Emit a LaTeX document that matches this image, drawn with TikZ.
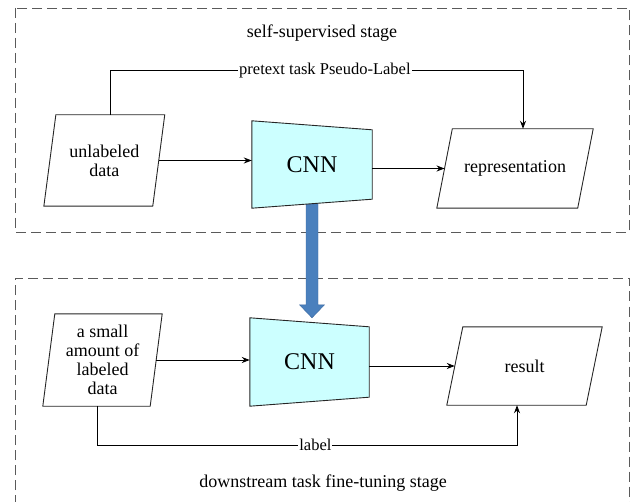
\documentclass[tikz,border=0pt]{standalone}
\usepackage{fontspec}
\setmainfont{Liberation Serif}
\usetikzlibrary{arrows.meta,calc,backgrounds}
\definecolor{cnncyan}{RGB}{204,255,255}
\definecolor{arrowblue}{RGB}{74,128,189}
\definecolor{arrowedge}{RGB}{60,105,160}
\definecolor{boxgray}{RGB}{90,90,90}
\tikzset{
  txt/.style={inner sep=0pt, align=center, font=\fontsize{18}{19}\selectfont},
  cnntxt/.style={inner sep=0pt, font=\fontsize{24}{26}\selectfont},
  lbl/.style={fill=white, inner sep=1pt, font=\fontsize{16.5}{18}\selectfont},
  title/.style={inner sep=0pt, font=\fontsize{18}{19}\selectfont},
  conn/.style={draw=black, line width=0.9pt, -{Stealth[length=8pt,width=6pt]}},
  plainconn/.style={draw=black, line width=0.9pt},
  shapeline/.style={draw=black!85, line width=0.9pt, fill=white},
  cnnshape/.style={draw=black!85, line width=0.9pt, fill=cnncyan},
  dashbox/.style={draw=boxgray, line width=0.9pt, dash pattern=on 10pt off 5pt}
}
\newcommand\paraframe[2]{%
  \draw[shapeline] ($(#1.north west)+(#2,0)$) -- ($(#1.north east)+(#2,0)$)
    -- ($(#1.south east)-(#2,0)$) -- ($(#1.south west)-(#2,0)$) -- cycle;}
\newcommand\cnnframe[2]{%
  \draw[cnnshape] (#1.north west) -- ($(#1.north east)+(0,#2)$)
    -- ($(#1.south east)-(0,#2)$) -- (#1.south west) -- cycle;}
\begin{document}
\begin{tikzpicture}[x=1pt,y=-1pt]
\useasboundingbox (0,0) rectangle (631,502);
% nodes (text)
\node[txt, minimum width=108.5pt, minimum height=91pt] (ud) at (104.3,160.5) {unlabeled\\data};
\node[cnntxt, minimum width=120pt, minimum height=87pt] (cnn1) at (312,164.5) {CNN};
\node[txt, minimum width=140.5pt, minimum height=79pt] (rep) at (515,168.5) {representation};
\node[txt, minimum width=107pt, minimum height=92pt] (sld) at (102.5,360) {a small\\amount of\\labeled\\data};
\node[cnntxt, minimum width=119pt, minimum height=88pt] (cnn2) at (309.5,362) {CNN};
\node[txt, minimum width=139pt, minimum height=78pt] (res) at (524.5,366) {result};
\node[title] (t1) at (322,33) {self-supervised stage};
\node[title] (t2) at (323,483) {downstream task fine-tuning stage};
\coordinate (bt) at (cnn1.south |- cnn2.north);
\begin{scope}[on background layer]
  \draw[dashbox] (15,8) rectangle (629.5,232);
  \draw[dashbox] (15,520) -- (15,278) -- (629.5,278) -- (629.5,520);
  \fill[arrowblue, draw=arrowedge, line width=0.4pt]
    ($(cnn1.south)+(-6,-8)$) -- ($(cnn1.south)+(6,-8)$) -- ($(bt)+(6,-13)$)
    -- ($(bt)+(12.5,-13)$) -- (bt) -- ($(bt)+(-12.5,-13)$) -- ($(bt)+(-6,-13)$) -- cycle;
  \paraframe{ud}{6}
  \paraframe{rep}{7.75}
  \paraframe{sld}{6}
  \paraframe{res}{8}
  \cnnframe{cnn1}{9}
  \cnnframe{cnn2}{9}
\end{scope}
% connectors
\draw[conn] (ud.east) -- (ud.east -| cnn1.west);
\draw[conn] (rep.west -| cnn1.east) -- (rep.west);
\draw[conn] ($(ud.north)+(6,0)$) -- ++(0,-44) -| node[lbl, pos=0.26] {pretext task Pseudo-Label} ($(rep.north)+(8,0)$);
\draw[conn] (sld.east) -- (sld.east -| cnn2.west);
\draw[conn] (res.west -| cnn2.east) -- (res.west);
\draw[conn] ($(sld.south)+(-5.5,0)$) -- ++(0,39) -| node[lbl, pos=0.26] {label} ($(res.south)+(-7.5,0)$);
\end{tikzpicture}
\end{document}
